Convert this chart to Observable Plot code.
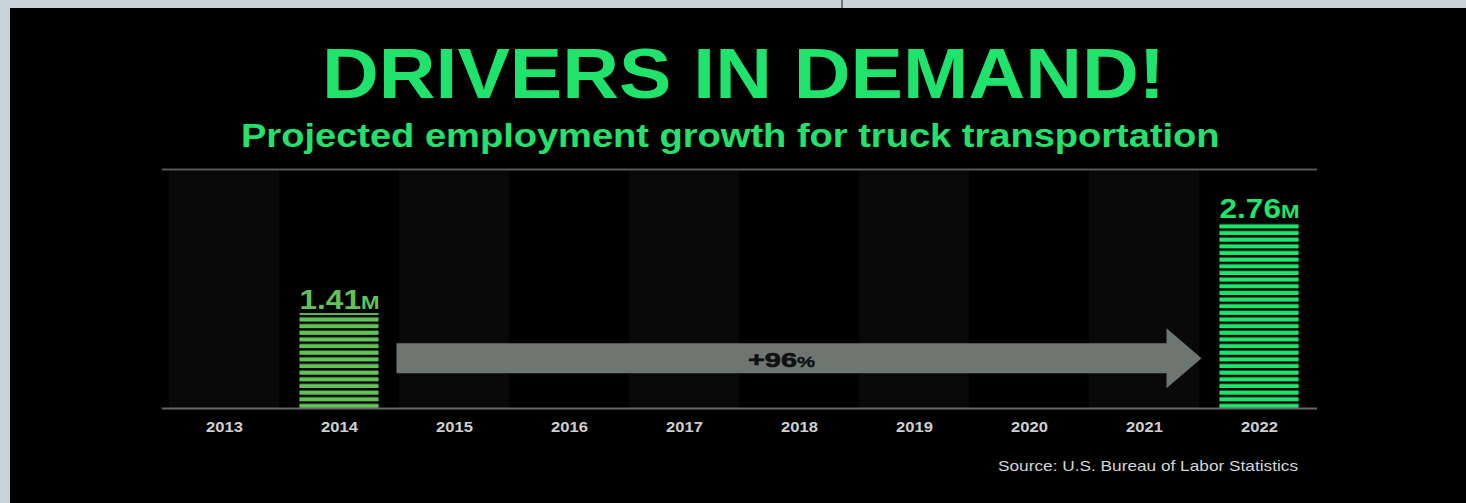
<!DOCTYPE html>
<html><head><meta charset="utf-8">
<script src="https://cdn.jsdelivr.net/npm/d3@7"></script>
<script src="https://cdn.jsdelivr.net/npm/@observablehq/plot@0.6"></script>
<style>
html,body{margin:0;padding:0;}
body{background:#c9d3da;width:1466px;height:503px;overflow:hidden;position:relative;}
#tick{position:absolute;left:841px;top:0;width:2px;height:8px;background:#6c7686;}
#card{position:absolute;left:10px;top:8px;width:1456px;height:495px;background:#000;overflow:hidden;}
.txt{position:absolute;white-space:nowrap;line-height:1;transform-origin:0 0;font-family:"Liberation Sans",Arial,Helvetica,sans-serif;display:inline-block;}
#chart{position:absolute;left:0;top:152px;}
</style></head><body>
<div id="tick"></div>
<div id="card">
 <div id="title" class="txt"></div>
 <div id="subtitle" class="txt"></div>
 <div id="chart"></div>
 <div id="source" class="txt"></div>
</div>
<script>
// ---- data ----
const titleText = "DRIVERS IN DEMAND!";
const subtitleText = "Projected employment growth for truck transportation";
const sourceText = "Source: U.S. Bureau of Labor Statistics";
const years = ["2013","2014","2015","2016","2017","2018","2019","2020","2021","2022"];
const barYears = ["2014","2022"];
const barValues = [1.41, 2.76];
const barLabels = ["1.41","2.76"];
const barUnit = "M";
const barColors = ["#62c157","#1fe56b"];
const changeLabel = "+96";
const changeUnit = "%";
const arrowFrom = "2015";
const arrowTo = "2021";
const yMax = 3.55;
const arrowLevel = 0.74;

const bars = barYears.map((year, i) => ({year, value: barValues[i], label: barLabels[i], color: barColors[i], id: "stripes" + i}));

// ---- html texts ----
function placeText(id, text, left, right, baseline, fs, weight, color) {
  const el = document.getElementById(id);
  el.textContent = text;
  el.style.fontSize = fs + "px";
  el.style.fontWeight = weight;
  el.style.color = color;
  el.style.left = left + "px";
  el.style.top = (baseline - 0.8465 * fs) + "px";
  const w = el.getBoundingClientRect().width;
  el.style.transform = `scaleX(${(right - left) / w})`;
}
placeText("title", titleText, 312, 1155, 90, 70, "bold", "#1fe36b");
placeText("subtitle", subtitleText, 230.7, 1209.3, 139.3, 33.5, "bold", "#24e16b");
placeText("source", sourceText, 988, 1288, 463, 14.5, "normal", "#d4d4d4");

// ---- chart ----
const chart = Plot.plot({
  width: 1456, height: 285,
  marginTop: 9, marginBottom: 37, marginLeft: 152, marginRight: 144,
  style: {background: "transparent", color: "#cfcfcf", fontFamily: "'Liberation Sans', Arial, sans-serif", fontSize: "14.4px", fontWeight: "bold"},
  x: {domain: years, padding: 0.04, label: null, tickSize: 0, tickPadding: 13},
  y: {domain: [0, yMax], axis: null},
  color: {type: "identity"},
  marks: [
    Plot.cell(years.filter((d, i) => i % 2 === 0), {x: d => d, fill: "#090909"}),
    ...bars.map(b => Plot.barY([b], {x: "year", y: "value", fill: `url(#${b.id})`, insetLeft: 15.45, insetRight: 15.45})),
    Plot.ruleY([0], {stroke: "#666", strokeWidth: 2, insetRight: 5}),
    Plot.ruleY([yMax], {stroke: "#575757", strokeWidth: 2, insetRight: 5}),
    Plot.text(bars, {x: "year", y: "value", text: "label", fill: "color", fontSize: 27, fontWeight: "bold", textAnchor: "middle"})
  ]
});
document.getElementById("chart").appendChild(chart);

const svg = d3.select(chart);
const xs = chart.scale("x"), ys = chart.scale("y");
const y0 = ys.apply(0);
const P = 6.65, stripe = 4.2;
const defs = svg.insert("defs", ":first-child");
bars.forEach(b => {
  const p = defs.append("pattern").attr("id", b.id).attr("patternUnits", "userSpaceOnUse")
    .attr("width", 20).attr("height", P).attr("patternTransform", `translate(0,${y0})`);
  p.append("rect").attr("x", 0).attr("y", P - stripe).attr("width", 20).attr("height", stripe).attr("fill", b.color);
});

// value labels: small unit + horizontal stretch
svg.selectAll('g[aria-label="text"] text').each(function() {
  const t = d3.select(this);
  t.attr("y", -5).attr("dy", null);
  t.append("tspan").attr("font-size", 19).text(barUnit);
  t.attr("transform", (t.attr("transform") || "") + " scale(1.17,1)");
});

// tick labels stretch
svg.selectAll('g[aria-label="x-axis tick label"] text').each(function() {
  const t = d3.select(this);
  t.attr("transform", (t.attr("transform") || "") + " scale(1.15,1)");
});

// arrow
const step = xs.step || xs.bandwidth / (1 - 0.04);
const cx = v => xs.apply(v) + xs.bandwidth / 2;
const start = cx(arrowFrom) - step / 2;
const tip = cx(arrowTo) + step / 2;
const yc = ys.apply(arrowLevel);
const headLen = 35, bodyHalf = 15, headHalf = 30;
const bodyEnd = tip - headLen;
const g = svg.append("g").attr("aria-label", "arrow");
g.append("path")
  .attr("d", `M${start},${yc - bodyHalf}L${bodyEnd},${yc - bodyHalf}L${bodyEnd},${yc - headHalf}L${tip},${yc}L${bodyEnd},${yc + headHalf}L${bodyEnd},${yc + bodyHalf}L${start},${yc + bodyHalf}Z`)
  .attr("fill", "#6e7671");
const lt = g.append("text")
  .attr("transform", `translate(${(start + bodyEnd) / 2},${yc + 8.5}) scale(1.45,1)`)
  .attr("text-anchor", "middle").attr("font-size", 20).attr("font-weight", "bold").attr("fill", "#111")
  .attr("stroke", "#111").attr("stroke-width", 0.6)
  .text(changeLabel);
lt.append("tspan").attr("font-size", 14).attr("stroke-width", 0.3).text(changeUnit);
</script>
</body></html>
